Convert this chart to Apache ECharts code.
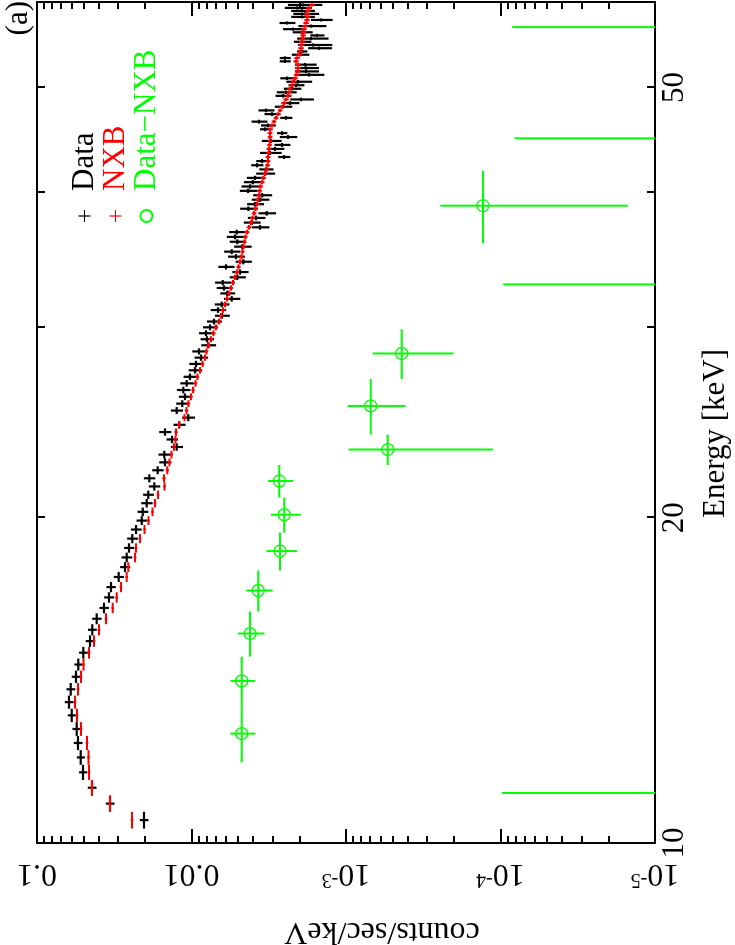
<!DOCTYPE html>
<html>
<head>
<meta charset="utf-8">
<script src="https://cdn.jsdelivr.net/npm/echarts@6/dist/echarts.min.js"></script>
<style>
html,body{margin:0;padding:0;background:#fff;overflow:hidden;width:735px;height:945px;}
#chart{position:absolute;left:0;top:945px;width:945px;height:735px;transform-origin:0 0;transform:rotate(-90deg);background:#fff;}
</style>
</head>
<body>
<div id="chart"></div>
<script>
// ---------------- data ----------------
const energy = [
10.5,10.875,11.25,11.625,12,12.375,12.75,13.125,13.5,13.875,
14.25,14.625,15,15.375,15.75,16.125,16.5,16.875,17.25,17.625,
18,18.375,18.75,19.125,19.5,19.875,20.25,20.625,21,21.375,
21.75,22.125,22.5,22.875,23.25,23.625,24,24.375,24.75,25.125,
25.5,25.875,26.25,26.625,27,27.375,27.75,28.125,28.5,28.875,
29.25,29.625,30,30.375,30.75,31.125,31.5,31.875,32.25,32.625,
33,33.375,33.75,34.125,34.5,34.875,35.25,35.625,36,36.375,
36.75,37.125,37.5,37.875,38.25,38.625,39,39.375,39.75,40.125,
40.5,40.875,41.25,41.625,42,42.375,42.75,43.125,43.5,43.875,
44.25,44.625,45,45.375,45.75,46.125,46.5,46.875,47.25,47.625,
48,48.375,48.75,49.125,49.5,49.875,50.25,50.625,51,51.375,
51.75,52.125,52.5,52.875,53.25,53.625,54,54.375,54.75,55.125,
55.5,55.875,56.25,56.625,57,57.375,57.75,58.125,58.5,58.875,
59.25,59.625];
const energyBinHalf = 0.1875;

const dataRate = [
0.02030,0.03369,0.04406,0.05038,0.05213,0.05429,0.05534,0.05960,0.06208,0.06052,
0.05593,0.05405,0.05015,0.04539,0.04387,0.04108,0.03684,0.03420,0.03319,0.02960,
0.02694,0.02627,0.02538,0.02416,0.02286,0.02100,0.02069,0.01950,0.01904,0.01741,
0.01875,0.01655,0.01484,0.01500,0.01247,0.01337,0.01484,0.01200,0.01049,0.01247,
0.01147,0.01102,0.01130,0.01074,0.01023,0.009491,0.009352,0.008680,0.008943,0.007786,
0.007938,0.008055,0.007591,0.007152,0.006347,0.006738,0.006375,0.005492,0.005865,0.006161,
0.006281,0.005052,0.004853,0.005980,0.004620,0.005152,0.005492,0.004689,0.005052,0.005227,
0.005096,0.003601,0.004076,0.003822,0.003260,0.004287,0.003880,0.003601,0.003495,0.004306,
0.004180,0.004017,0.003880,0.003344,0.003294,0.003766,0.003495,0.002519,0.003104,0.002881,
0.002595,0.003058,0.002373,0.002595,0.003344,0.003198,0.003655,0.002445,0.003013,0.003294,
0.002557,0.002304,0.001955,0.002557,0.002445,0.002236,0.002106,0.002045,0.002409,0.001736,
0.001815,0.001815,0.001842,0.002482,0.002482,0.001985,0.001926,0.001496,0.001635,0.001926,
0.001684,0.001541,0.001926,0.002203,0.001684,0.002409,0.001452,0.001926,0.001842,0.001926,
0.002075,0.001898];

const dataRelErr = [
0.065,0.065,0.065,0.06,0.06,0.065,0.065,0.06,0.065,0.065,
0.065,0.06,0.065,0.065,0.065,0.07,0.07,0.075,0.07,0.075,
0.075,0.08,0.075,0.08,0.08,0.08,0.08,0.085,0.08,0.085,
0.085,0.085,0.09,0.09,0.09,0.085,0.09,0.09,0.095,0.09,
0.095,0.095,0.1,0.1,0.1,0.1,0.105,0.1,0.105,0.11,
0.1,0.11,0.11,0.11,0.11,0.115,0.11,0.12,0.11,0.115,
0.12,0.12,0.12,0.12,0.12,0.125,0.12,0.13,0.12,0.13,
0.12,0.13,0.125,0.13,0.13,0.13,0.125,0.13,0.14,0.13,
0.135,0.14,0.13,0.14,0.105,0.09,0.09,0.09,0.16,0.13,
0.118,0.147,0.13,0.077,0.077,0.11,0.118,0.09,0.118,0.118,
0.13,0.13,0.175,0.118,0.147,0.13,0.118,0.19,0.105,0.205,
0.175,0.175,0.16,0.082,0.082,0.13,0.077,0.175,0.25,0.13,
0.23,0.105,0.147,0.16,0.205,0.118,0.16,0.175,0.19,0.175,
0.2,0.25];

const nxbRate = [
0.02427,0.03369,0.04406,0.04607,0.04642,0.04747,0.05191,0.05510,0.05676,0.05429,
0.05191,0.05000,0.04607,0.04277,0.03970,0.03576,0.03236,0.03049,0.02860,0.02627,
0.02565,0.02320,0.02286,0.02154,0.02014,0.01898,0.01788,0.01722,0.01647,0.01495,
0.01507,0.01435,0.01389,0.01348,0.01298,0.01269,0.01260,0.01205,0.01110,0.01077,
0.01046,0.01007,0.009779,0.009421,0.009145,0.008810,0.008489,0.008178,0.007997,0.007762,
0.007478,0.007205,0.006941,0.006637,0.006443,0.006253,0.006069,0.005890,0.005717,0.005549,
0.005386,0.005227,0.005074,0.004962,0.004853,0.004745,0.004675,0.004606,0.004539,0.004471,
0.004372,0.004243,0.004118,0.004027,0.003938,0.003851,0.003766,0.003710,0.003655,0.003628,
0.003574,0.003495,0.003420,0.003344,0.003270,0.003221,0.003198,0.003198,0.003174,0.003150,
0.003127,0.003104,0.003104,0.003104,0.003081,0.003013,0.002924,0.002838,0.002754,0.002673,
0.002595,0.002519,0.002445,0.002373,0.002338,0.002304,0.002236,0.002186,0.002138,0.002091,
0.002060,0.002045,0.002045,0.002106,0.002075,0.002014,0.001985,0.001955,0.001941,0.001926,
0.001912,0.001898,0.001884,0.001870,0.001842,0.001815,0.001788,0.001775,0.001788,0.001762,
0.001736,0.001660];

const nxbRelErr = [
0.02,0.02,0.02,0.02,0.02,0.02,0.02,0.02,0.02,0.02,
0.02,0.02,0.02,0.02,0.02,0.02,0.02,0.02,0.02,0.02,
0.02,0.02,0.02,0.02,0.02,0.02,0.02,0.02,0.02,0.02,
0.025,0.025,0.025,0.025,0.025,0.025,0.025,0.025,0.025,0.025,
0.025,0.025,0.025,0.025,0.025,0.025,0.025,0.025,0.025,0.025,
0.03,0.03,0.03,0.03,0.03,0.03,0.03,0.03,0.03,0.03,
0.03,0.03,0.03,0.03,0.03,0.03,0.03,0.03,0.03,0.03,
0.035,0.035,0.035,0.035,0.035,0.035,0.035,0.035,0.035,0.035,
0.035,0.035,0.035,0.035,0.035,0.035,0.035,0.035,0.035,0.035,
0.035,0.035,0.035,0.035,0.035,0.035,0.035,0.035,0.035,0.035,
0.04,0.04,0.04,0.04,0.04,0.04,0.04,0.04,0.04,0.04,
0.04,0.04,0.04,0.04,0.04,0.04,0.04,0.04,0.04,0.04,
0.04,0.04,0.04,0.04,0.04,0.04,0.04,0.04,0.04,0.04,
0.04,0.04];

const diffEnergy = [11.125,12.625,14.125,15.625,17.125,18.625,20.125,21.625,23.125,25.375,28.375,32.875,38.875,44.875,56.875];
const diffHalf   = [0.75,0.75,0.75,0.75,0.75,0.75,0.75,0.75,0.75,1.5,1.5,3,3,3,3];
const diffRate   = [-3e-5,4.73e-3,4.73e-3,4.18e-3,3.70e-3,2.67e-3,2.51e-3,2.70e-3,5.37e-4,6.92e-4,4.36e-4,-4e-5,1.30e-4,-6e-5,-8e-5];
const diffErr    = [1.28e-4,8.7e-4,8.6e-4,8.1e-4,7.2e-4,6.0e-4,5.5e-4,5.0e-4,4.25e-4,2.8e-4,2.35e-4,1.36e-4,1.15e-4,1.41e-4,1.64e-4];

const energyTicks = [10,20,30,40,50];
const energyTickLabels = [10,20,50];
const rateMajorTicks = [1e-5,1e-4,1e-3,0.01,0.1];
const rateTickText = ['10^-5','10^-4','10^-3','0.01','0.1'];
const rateMinorTicks = [
2e-5,3e-5,4e-5,5e-5,6e-5,7e-5,8e-5,9e-5,
2e-4,3e-4,4e-4,5e-4,6e-4,7e-4,8e-4,9e-4,
2e-3,3e-3,4e-3,5e-3,6e-3,7e-3,8e-3,9e-3,
0.02,0.03,0.04,0.05,0.06,0.07,0.08,0.09];

// ---------------- chart ----------------
const FONT = '"Liberation Serif","Times New Roman",serif';
const chart = echarts.init(document.getElementById('chart'), null, {width:945, height:735, renderer:'canvas'});

function relPoints(E, R, F, half) {
  return E.map((e, i) => [e, R[i], R[i] * (1 - F[i]), R[i] * (1 + F[i]), e - half, e + half]);
}
function absPoints(E, R, S, H) {
  return E.map((e, i) => [e, R[i], R[i] - S[i], R[i] + S[i], e - H[i], e + H[i]]);
}
function makeRender(color, lw, circle) {
  return function (params, api) {
    const e = api.value(0), c = api.value(1), lo = api.value(2), hi = api.value(3);
    const e0 = api.value(4), e1 = api.value(5);
    const cs = params.coordSys;
    const yBottom = cs.y + cs.height + 10;
    const children = [];
    const pHi = api.coord([e, hi]);
    const yLo = lo > 0 ? api.coord([e, lo])[1] : yBottom;
    if (c > 0) {
      const p = api.coord([e, c]);
      const pa = api.coord([e0, c]);
      const pb = api.coord([e1, c]);
      children.push({type:'line', shape:{x1:pa[0], y1:p[1], x2:pb[0], y2:p[1]}, style:{stroke:color, lineWidth:lw}});
      if (circle) {
        children.push({type:'circle', shape:{cx:p[0], cy:p[1], r:6}, style:{fill:'none', stroke:color, lineWidth:1.3}});
      }
    }
    children.push({type:'line', shape:{x1:pHi[0], y1:pHi[1], x2:pHi[0], y2:yLo}, style:{stroke:color, lineWidth:lw}});
    return {type:'group', children: children};
  };
}

const tickStyle = {color:'#000', width:2};
const xCommon = {type:'log', logBase:10, min:10, max:60, axisLine:{show:false}, splitLine:{show:false}, minorTick:{show:false}, minorSplitLine:{show:false}};
const yCommon = {type:'log', logBase:10, min:1e-5, max:0.1, axisLine:{show:false}, splitLine:{show:false}, minorTick:{show:false}, minorSplitLine:{show:false}};

const CROSS = 'path://M5.4,0h1.2v12h-1.2zM0,5.4h12v1.2h-12z';

chart.setOption({
  animation:false,
  backgroundColor:'#fff',
  grid:{left:102, right:2, top:37, bottom:80, show:true, borderColor:'#000', borderWidth:2, backgroundColor:'transparent', containLabel:false, outerBoundsMode:'none'},
  graphic:[{type:'text', right:1, top:3, style:{text:'(a)', font:'31px ' + FONT, fill:'#000'}}],
  legend:{
    orient:'vertical', left:717, top:64, itemWidth:12, itemHeight:12, itemGap:0, selectedMode:false,
    textStyle:{fontFamily:FONT, fontSize:31, padding:[0,0,0,14]},
    data:[
      {name:'Data', icon:CROSS, itemStyle:{color:'#000000'}, textStyle:{color:'#000000'}},
      {name:'NXB', icon:CROSS, itemStyle:{color:'#ff0000'}, textStyle:{color:'#ff0000'}},
      {name:'Data\u2212NXB', icon:'emptyCircle', itemStyle:{color:'#00ff00'}, textStyle:{color:'#00ff00'}}
    ]
  },
  xAxis:[
    Object.assign({}, xCommon, {
      position:'bottom', name:'Energy [keV]', nameLocation:'middle', nameGap:45,
      nameTextStyle:{fontFamily:FONT, fontSize:31, color:'#000', padding:[0,22,0,0]},
      axisTick:{show:true, inside:true, length:8, lineStyle:tickStyle, customValues:energyTicks},
      axisLabel:{show:true, inside:false, margin:4, color:'#000', fontFamily:FONT, fontSize:31, customValues:energyTickLabels, formatter:(v)=>String(Math.round(v))}
    }),
    Object.assign({}, xCommon, {
      position:'top',
      axisTick:{show:true, inside:true, length:8, lineStyle:tickStyle, customValues:energyTicks},
      axisLabel:{show:false}
    })
  ],
  yAxis:[
    Object.assign({}, yCommon, {
      position:'left', name:'counts/sec/keV', nameLocation:'middle', nameGap:72,
      nameTextStyle:{fontFamily:FONT, fontSize:32, color:'#000', padding:[0,72,0,0]},
      axisTick:{show:true, inside:true, length:14, lineStyle:tickStyle, customValues:rateMajorTicks},
      axisLabel:{show:true, rotate:90, margin:14, color:'#000', fontFamily:FONT, fontSize:32, customValues:rateMajorTicks,
        formatter:function(v){
          let best = 0, bd = 1e9;
          rateMajorTicks.forEach((t, i) => { const d = Math.abs(Math.log10(t) - Math.log10(v)); if (d < bd) { bd = d; best = i; } });
          const parts = rateTickText[best].split('^');
          return parts.length > 1 ? '{b|' + parts[0] + '}{s|' + parts[1] + '}' : '{b|' + parts[0] + '}';
        },
        rich:{
          b:{fontFamily:FONT, fontSize:32, color:'#000', lineHeight:32},
          s:{fontFamily:FONT, fontSize:20, color:'#000', lineHeight:20, verticalAlign:'top'}
        }
      }
    }),
    Object.assign({}, yCommon, {
      position:'left',
      axisTick:{show:true, inside:true, length:7, lineStyle:tickStyle, customValues:rateMinorTicks},
      axisLabel:{show:false}
    }),
    Object.assign({}, yCommon, {
      position:'right',
      axisTick:{show:true, inside:true, length:14, lineStyle:tickStyle, customValues:rateMajorTicks},
      axisLabel:{show:false}
    }),
    Object.assign({}, yCommon, {
      position:'right',
      axisTick:{show:true, inside:true, length:7, lineStyle:tickStyle, customValues:rateMinorTicks},
      axisLabel:{show:false}
    })
  ],
  series:[
    {type:'custom', name:'Data', xAxisIndex:0, yAxisIndex:0, clip:true, z:2,
     itemStyle:{color:'#000000'}, encode:{x:0, y:1},
     renderItem:makeRender('#000000', 2.2, false),
     data:relPoints(energy, dataRate, dataRelErr, energyBinHalf)},
    {type:'custom', name:'NXB', xAxisIndex:0, yAxisIndex:0, clip:true, z:3,
     itemStyle:{color:'#ff0000'}, encode:{x:0, y:1},
     renderItem:makeRender('#ff0000', 2, false),
     data:relPoints(energy, nxbRate, nxbRelErr, energyBinHalf)},
    {type:'custom', name:'Data\u2212NXB', xAxisIndex:0, yAxisIndex:0, clip:true, z:4,
     itemStyle:{color:'#00ff00'}, encode:{x:0, y:1},
     renderItem:makeRender('#00ff00', 2, true),
     data:absPoints(diffEnergy, diffRate, diffErr, diffHalf)}
  ]
});
</script>
</body>
</html>
